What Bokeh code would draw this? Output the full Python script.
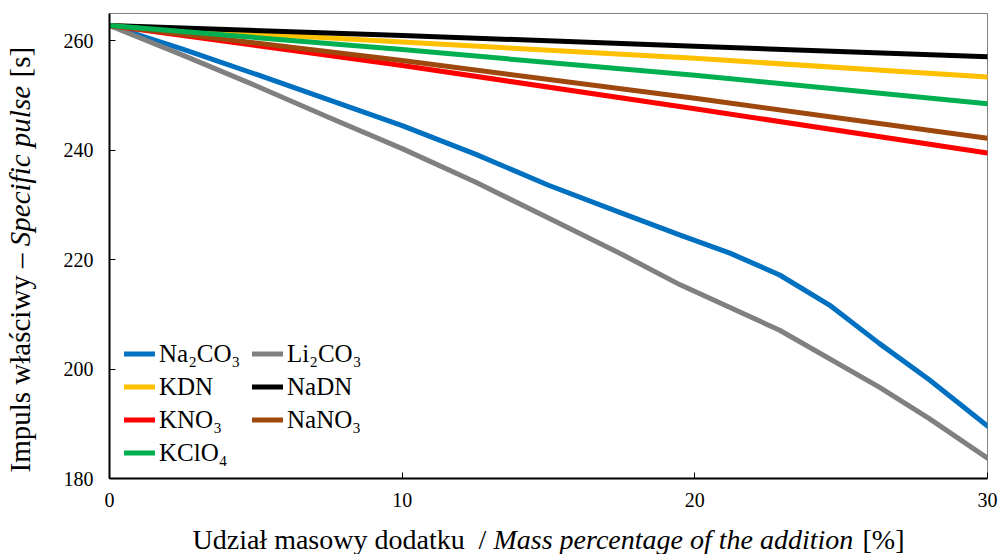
import math
from bokeh.plotting import figure
from bokeh.layouts import row, column
from bokeh.models import Label, Legend, LegendItem, FixedTicker, Range1d
from bokeh.embed import file_html
from bokeh.resources import INLINE

# ---- data ----
na2co3_x = [0, 2.5, 5, 7.5, 10, 12.5, 15, 17.5, 19.5, 21.2, 22.9, 24.6, 26.3, 28, 30]
na2co3 = [262.8, 258.5, 253.9, 249.2, 244.5, 239.3, 233.6, 228.5, 224.5, 221.2, 217.2, 211.7,
          204.7, 198.1, 189.6]
li2co3_x = [0, 2.5, 5, 7.5, 10, 12.5, 15, 17.5, 19.5, 22.9, 26.3, 28, 30]
li2co3 = [262.8, 257.4, 251.8, 246.0, 240.3, 234.2, 227.6, 221.0, 215.4, 207.1, 196.7, 191.0, 183.7]

x_lin = [0, 10, 20, 30]
kdn = [262.8, 259.8, 256.8, 253.4]
nadn = [262.8, 261.0, 259.0, 257.1]
kno3 = [262.8, 255.5, 247.6, 239.5]
nano3 = [262.8, 256.4, 249.5, 242.2]
kclo4 = [262.8, 258.4, 253.7, 248.5]

x_ticks = [0, 10, 20, 30]
y_ticks = [180, 200, 220, 240, 260]

series = [
    ("Na\u2082CO\u2083", na2co3_x, na2co3, "#0070C0"),
    ("Li\u2082CO\u2083", li2co3_x, li2co3, "#808080"),
    ("KDN", x_lin, kdn, "#FFC000"),
    ("NaDN", x_lin, nadn, "#000000"),
    ("KNO\u2083", x_lin, kno3, "#FF0000"),
    ("NaNO\u2083", x_lin, nano3, "#9E480E"),
    ("KClO\u2084", x_lin, kclo4, "#00B050"),
]

FONT = "Liberation Serif"
W, H = 998, 554
LEFT_W = 50      # strip holding the y title
BOT_H = 36       # strip holding the x title

p = figure(width=W - LEFT_W, height=H - BOT_H,
           x_range=Range1d(0, 30), y_range=Range1d(180, 265),
           output_backend="svg", toolbar_location=None, frame_align=False,
           min_border_left=109 - LEFT_W, min_border_right=W - 987,
           min_border_top=13, min_border_bottom=(H - BOT_H) - 478)

p.grid.visible = False
p.outline_line_color = "#808080"
p.outline_line_width = 1

for ax, ticks, standoff in ((p.xaxis[0], x_ticks, 14), (p.yaxis[0], y_ticks, 16)):
    ax.ticker = FixedTicker(ticks=ticks)
    ax.axis_line_color = "black"
    ax.axis_line_width = 2
    ax.major_tick_line_color = "black"
    ax.major_tick_in = 6
    ax.major_tick_out = 0
    ax.minor_tick_line_color = None
    ax.major_label_text_font = FONT
    ax.major_label_text_font_size = "20px"
    ax.major_label_text_color = "black"
    ax.major_label_standoff = standoff

items = []
for name, xs, ys, col in series:
    r = p.line(xs, ys, line_color=col, line_width=5, line_cap="round", line_join="round")
    items.append(LegendItem(label=name, renderers=[r]))

legend = Legend(items=items, location=(15, 9), orientation="horizontal", ncols=2,
                glyph_width=31, glyph_height=33, label_height=33, label_width=93,
                label_standoff=4, spacing=0, padding=0, margin=0,
                border_line_color=None, background_fill_alpha=0,
                label_text_font=FONT, label_text_font_size="25px",
                label_text_color="black")
p.add_layout(legend)


def strip(width, height, x0, x1, y0, y1):
    f = figure(width=width, height=height, x_range=Range1d(x0, x1), y_range=Range1d(y0, y1),
               output_backend="svg", toolbar_location=None, min_border=0, frame_align=False,
               x_axis_location=None, y_axis_location=None)
    f.grid.visible = False
    f.outline_line_color = None
    return f


# x-axis title strip: data coords = page pixels (x), page-bottom-up pixels (y)
fx = strip(W - LEFT_W, BOT_H, LEFT_W, W, 0, BOT_H)
xs_parts = [("Udzia\u0142 masowy dodatku", "normal", 192),
            ("/", "normal", 478),
            ("Mass percentage of the addition", "italic", 493),
            ("[%]", "normal", 862)]
for txt, style, xpos in xs_parts:
    fx.add_layout(Label(x=xpos, y=15, text=txt,
                        text_font=FONT, text_font_size="28px", text_font_style=style,
                        text_color="black", text_baseline="alphabetic", text_align="left"))

# y-axis title strip
fy = strip(LEFT_W, H, 0, LEFT_W, 0, H)
ys_parts = [("Impuls w\u0142a\u015bciwy \u2013", "normal", 472),
            ("Specific pulse", "italic", 472 - 226.3),
            ("[s]", "normal", 77)]
for txt, style, ypos in ys_parts:
    fy.add_layout(Label(x=19, y=H - ypos, text=txt, angle=math.pi / 2,
                        text_font=FONT, text_font_size="29px", text_font_style=style,
                        text_color="black", text_baseline="alphabetic", text_align="left"))

layout = row(fy, column(p, fx))
open("out.html", "w").write(file_html(layout, INLINE))
